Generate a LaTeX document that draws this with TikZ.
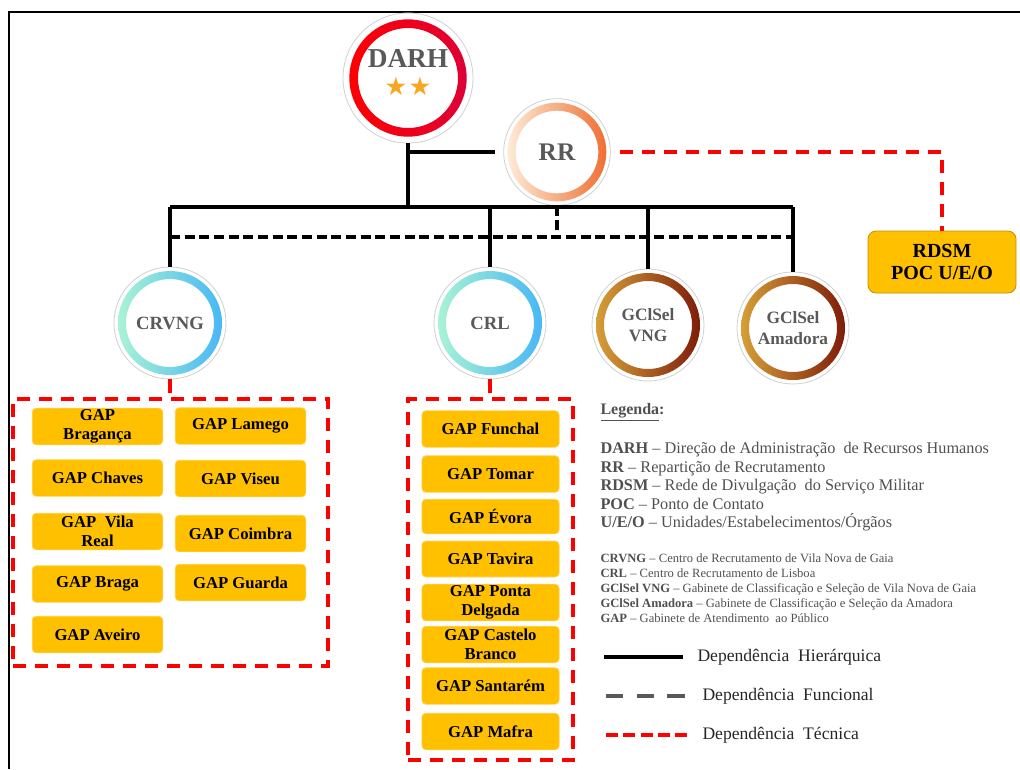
\documentclass[tikz,border=0pt]{standalone}
\usepackage{fontspec}
\setmainfont{Liberation Serif}
\newfontfamily\symfont{DejaVu Sans}
\usetikzlibrary{fit}

\definecolor{gapgold}{HTML}{FFC000}
\definecolor{gapedge}{HTML}{FFD966}
\definecolor{pocedge}{HTML}{BF9000}
\definecolor{ringgray}{HTML}{D0D0D0}
\definecolor{labelgray}{HTML}{595959}
\definecolor{leggray}{HTML}{505050}
\definecolor{deptext}{HTML}{262626}
\definecolor{techred}{HTML}{FF0000}
\definecolor{starorange}{HTML}{F7A823}
\definecolor{darhleft}{HTML}{FF0000}
\definecolor{darhright}{HTML}{DC0038}
\definecolor{rrleft}{HTML}{FDF0DC}
\definecolor{rrright}{HTML}{EE6A2C}
\definecolor{crleft}{HTML}{ADF5D3}
\definecolor{crright}{HTML}{45B5F7}
\definecolor{selleft}{HTML}{D9A43A}
\definecolor{selright}{HTML}{7A1808}

\tikzset{every picture/.style={line width=0.75pt}}
\tikzset{
  unit/.style={circle, draw=ringgray, line width=0.6pt, fill=white, inner sep=0pt,
    text=labelgray, font=\bfseries, align=center},
  ring/.style n args={4}{path picture={
    \shade[left color=#1, right color=#2, even odd rule]
      (path picture bounding box.center) circle (#3)
      (path picture bounding box.center) circle (#4);}},
  gapbox/.style={rectangle, rounded corners=3pt, fill=gapgold, draw=gapedge, line width=0.5pt,
    minimum height=27.5pt, inner sep=1pt, align=center,
    font=\fontsize{12.5}{14.5}\selectfont\bfseries},
  hier/.style={line width=2.6pt, black},
  func/.style={line width=2.6pt, black, dash pattern={on 7.5pt off 3.5pt}},
  tech/.style={line width=2.6pt, techred, dash pattern={on 10pt off 6.5pt}},
  techframe/.style={draw=techred, line width=2.6pt, dash pattern={on 10pt off 6.5pt}, inner sep=0pt},
  legtext/.style={inner sep=0pt, text=leggray, align=left},
  deplabel/.style={inner sep=0pt, anchor=west, text=deptext, font=\fontsize{13.2}{15}\selectfont}
}

\begin{document}
\begin{tikzpicture}[x=0.75pt,y=0.75pt,yscale=-1,xscale=1]
	\useasboundingbox (0,0) rectangle (1020,769);
	
	%Frame
	\draw [line width=1.5pt] (9,769) -- (9,12) -- (1020,12) ;
	
	%Circles
	\node [unit, ring={darhleft}{darhright}{44pt}{37.5pt}, minimum size=97.5pt, text depth=9pt,
	  font=\fontsize{20.5}{21}\selectfont\bfseries] (darh) at (408,78)
	  {DARH\\[0pt]{\symfont\fontsize{19}{19}\selectfont\color{starorange}★\hspace{1pt}★}};
	\node [unit, ring={rrleft}{rrright}{37pt}{31pt}, minimum size=80pt,
	  font=\fontsize{19}{21}\selectfont\bfseries] (rr) at (557,152) {RR};
	\node [unit, ring={crleft}{crright}{39pt}{33pt}, minimum size=84pt,
	  font=\fontsize{14}{16}\selectfont\bfseries] (crvng) at (170,323) {CRVNG};
	\node [unit, ring={crleft}{crright}{39pt}{33pt}, minimum size=84pt,
	  font=\fontsize{14}{16}\selectfont\bfseries] (crl) at (490,323) {CRL};
	\node [unit, ring={selleft}{selright}{39pt}{33pt}, minimum size=84pt,
	  font=\fontsize{13}{15.5}\selectfont\bfseries] (gvng) at (648,325) {GClSel\\VNG};
	\node [unit, ring={selleft}{selright}{39pt}{33pt}, minimum size=84pt,
	  font=\fontsize{13}{15.5}\selectfont\bfseries] (gama) at (793,328) {GClSel\\Amadora};
	
	%RDSM box
	\node [rectangle, rounded corners=6pt, fill=gapgold, draw=pocedge, line width=0.6pt,
	  minimum width=111pt, minimum height=46.5pt, align=center,
	  font=\fontsize{15}{17}\selectfont\bfseries] (rdsm) at (942,262) {RDSM\\POC U/E/O};
	
	%Bus lines
	\coordinate (bus) at (408,207);
	\coordinate (fbus) at (408,237);
	\draw [hier] (darh.south) -- (darh.south |- bus) ;
	\draw [hier] (darh.south |- rr.west) -- ([xshift=-6pt]rr.west) ;
	\draw [hier] (crvng.north |- bus) -- (gama.north |- bus) ;
	\draw [hier] (crvng.north |- bus) -- (crvng.north) ;
	\draw [hier] (crl.north |- bus) -- (crl.north) ;
	\draw [hier] (gvng.north |- bus) -- (gvng.north) ;
	\draw [hier] (gama.north |- bus) -- (gama.north) ;
	%Functional
	\draw [func] (rr.south) -- (rr.south |- fbus) ;
	\draw [func] (crvng.north |- fbus) -- (gama.north |- fbus) ;
	%Technical
	\draw [tech] ([xshift=7pt]rr.east) -| (rdsm.north) ;
	
	%GAP groups
	\node [techframe, fit={(13,399) (328,666)}] (norte) {};
	\node [techframe, fit={(408,399) (573,760)}] (sul) {};
	\draw [tech] (crvng.south) -- (crvng.south |- norte.north) ;
	\draw [tech] (crl.south) -- (crl.south |- sul.north) ;
	
	\node [gapbox, minimum width=98pt] (braganca) at (97.5,426.5) {GAP\\Bragança};
	\node [gapbox, minimum width=98pt] (chaves) at (97.5,478) {GAP Chaves};
	\node [gapbox, minimum width=98pt] (vilareal) at (97.5,531.5) {GAP\ \ Vila\\Real};
	\node [gapbox, minimum width=98pt] (braga) at (97.5,584) {GAP Braga};
	\node [gapbox, minimum width=98pt] (aveiro) at (97.5,634.5) {GAP Aveiro};
	\node [gapbox, minimum width=98pt] (lamego) at (240.5,426) {GAP Lamego};
	\node [gapbox, minimum width=98pt] (viseu) at (240.5,478.5) {GAP Viseu};
	\node [gapbox, minimum width=98pt] (coimbra) at (240.5,533.5) {GAP Coimbra};
	\node [gapbox, minimum width=98pt] (guarda) at (240.5,582.5) {GAP Guarda};
	
	\node [gapbox, minimum width=103pt] (funchal) at (490.5,429) {GAP Funchal};
	\node [gapbox, minimum width=103pt] (tomar) at (490.5,474) {GAP Tomar};
	\node [gapbox, minimum width=103pt, minimum height=26pt] (evora) at (490.5,516.5) {GAP Évora};
	\node [gapbox, minimum width=103pt, minimum height=27pt] (tavira) at (490.5,559) {GAP Tavira};
	\node [gapbox, minimum width=103pt] (pdelgada) at (490.5,602.5) {GAP Ponta\\Delgada};
	\node [gapbox, minimum width=103pt] (cbranco) at (490.5,644.5) {GAP Castelo\\Branco};
	\node [gapbox, minimum width=103pt] (santarem) at (490.5,686) {GAP Santarém};
	\node [gapbox, minimum width=103pt] (mafra) at (490.5,731.5) {GAP Mafra};
	
	% Legend
	\node [legtext, anchor=west, font=\fontsize{12}{14}\selectfont\bfseries] (legtitle) at (600,412) {\underline{Legenda}:};
	\node [legtext, anchor=north west, font=\fontsize{12.2}{13.9}\selectfont] (legbig) at (600,442)
	  {\textbf{DARH} -- Direção de Administração\ \ de Recursos Humanos\\
	   \textbf{RR} -- Repartição de Recrutamento\\
	   \textbf{RDSM} -- Rede de Divulgação\ \ do Serviço Militar\\
	   \textbf{POC} -- Ponto de Contato\\
	   \textbf{U/E/O} -- Unidades/Estabelecimentos/Órgãos};
	\node [legtext, anchor=north west, font=\fontsize{9.45}{11.25}\selectfont] (legsmall) at (600,553)
	  {\textbf{CRVNG} -- Centro de Recrutamento de Vila Nova de Gaia\\
	   \textbf{CRL} -- Centro de Recrutamento de Lisboa\\
	   \textbf{GClSel VNG} -- Gabinete de Classificação e Seleção de Vila Nova de Gaia\\
	   \textbf{GClSel Amadora} -- Gabinete de Classificação e Seleção da Amadora\\
	   \textbf{GAP} -- Gabinete de Atendimento\ \ ao Público};
	
	% Legend lines
	\node [deplabel] (lhier) at (697,657) {Dependência\ \ Hierárquica};
	\node [deplabel] (lfunc) at (702,696) {Dependência\ \ Funcional};
	\node [deplabel] (ltech) at (702,735) {Dependência\ \ Técnica};
	\coordinate (shier) at (604,657);
	\coordinate (sfunc) at (606,696);
	\coordinate (stech) at (606,735);
	\draw [line width=2.3pt] (shier) -- (shier -| 683,0) ;
	\draw [line width=3pt, labelgray, dash pattern={on 13pt off 10pt}] (sfunc) -- (sfunc -| 686,0) ;
	\draw [line width=3pt, techred, dash pattern={on 9pt off 4pt}] (stech) -- (stech -| 688,0) ;
	
\end{tikzpicture}
\end{document}
